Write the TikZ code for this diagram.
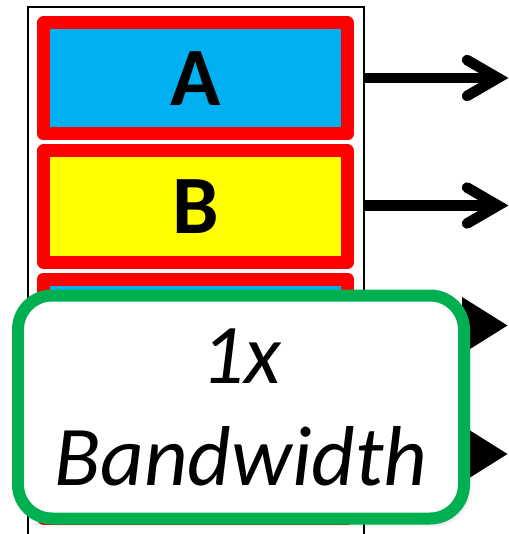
\documentclass[tikz,border=0pt]{standalone}
\usepackage{fontspec}
\setmainfont{Carlito}
\usetikzlibrary{calc,arrows.meta,shadows.blur}
\definecolor{boxred}{HTML}{FF0000}
\definecolor{boxblue}{HTML}{00B0F0}
\definecolor{boxyellow}{HTML}{FFFF00}
\definecolor{bwgreen}{HTML}{00B050}
\begin{document}
\begin{tikzpicture}[x=1pt,y=-1pt,
  slot/.style={draw=boxred, line width=13pt, line join=round,
    minimum width=304pt, minimum height=111pt, inner sep=0pt,
    font=\bfseries\fontsize{83}{83}\selectfont},
  flow/.style={line width=10.5pt},
  barb/.style={line width=10.5pt, line cap=round, line join=miter},
  badge/.style={draw=bwgreen, line width=12pt, fill=white, rounded corners=34pt,
    minimum width=446pt, minimum height=223pt, inner sep=0pt, align=center,
    font=\itshape\fontsize{85}{102}\selectfont,
    blur shadow={shadow xshift=3pt, shadow yshift=-4pt, shadow blur radius=5pt,
      shadow opacity=35}},
]
\useasboundingbox (0,0) rectangle (508,534);

% thin outer frame around the stack
\node[draw, line width=2pt, minimum width=336pt, minimum height=540pt, inner sep=0pt]
  (frame) at (196,277) {};

% stacked slots
\node[slot, fill=boxblue]   (A) at (195.5,78.5)  {A};
\node[slot, fill=boxyellow] (B) at (195.5,206.5) {B};
\node[slot, fill=boxblue]   (C) at (195.5,334.5) {};
\node[slot, fill=boxyellow] (D) at (195.5,462.5) {};

% open arrows for A and B
\path (A.east -| frame.east) ++(133,-0.5) coordinate (tA);
\path (B.east -| frame.east) ++(133,-1) coordinate (tB);
\draw[flow] (A.east -| frame.east) ++(0,-0.5) -- (tA);
\draw[barb] ($(tA)+(-31,-18)$) -- (tA) -- ($(tA)+(-31,18)$);
\draw[flow] (B.east -| frame.east) ++(0,-1) -- (tB);
\draw[barb] ($(tB)+(-31,-18)$) -- (tB) -- ($(tB)+(-31,18)$);

% filled arrows for C and D
\coordinate (sC) at ($(C.east -| frame.east)+(0,-9)$);
\coordinate (sD) at ($(D.east -| frame.east)+(0,-8.5)$);
\draw[flow, -{Triangle[length=46pt, width=54pt]}] (sC) -- ++(143,0) coordinate (eC);
\draw[flow, -{Triangle[length=46pt, width=54pt]}] (sD) -- ++(143,0) coordinate (eD);

% bandwidth badge on top
\node[badge] (bw) at (241,407) {1x\\Bandwidth};
\end{tikzpicture}
\end{document}
